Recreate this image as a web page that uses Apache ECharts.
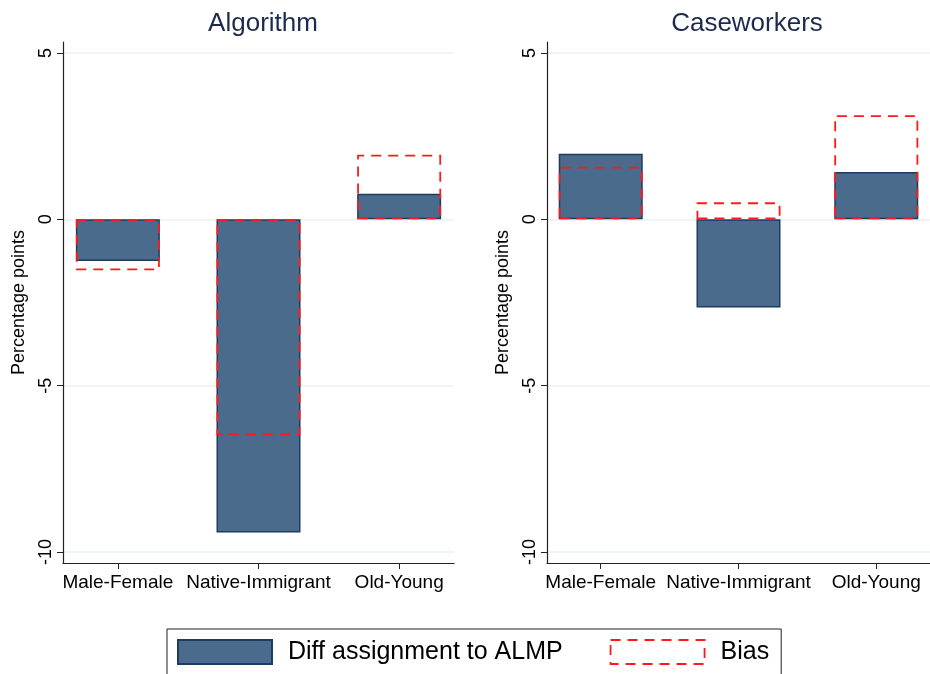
<!DOCTYPE html>
<html>
<head>
<meta charset="utf-8">
<script src="https://cdn.jsdelivr.net/npm/echarts@6/dist/echarts.min.js"></script>
<style>
  html, body { margin: 0; padding: 0; background: #fff; }
  #chart { width: 930px; height: 674px; }
</style>
</head>
<body>
<div id="chart"></div>
<script>
// categories and values
var categories = ['Male-Female', 'Native-Immigrant', 'Old-Young'];
var panels = ['Algorithm', 'Caseworkers'];
var algoDiff = [-1.25, -9.41, 0.77];
var algoBias = [-1.53, -6.49, 1.94];
var caseDiff = [1.97, -2.65, 1.42];
var caseBias = [1.58, 0.51, 3.13];
var yTicks = [-10, -5, 0, 5];
var xTicks = [0, 1, 2];

var font = '"Liberation Sans", Arial, sans-serif';
var blue = '#4a6b8b';
var navy = '#1a3d61';
var red = '#ff1a1a';
var dash = [10, 7];

function pts(vals) {
  return vals.map(function (v, i) { return [i, v]; });
}

function xAxisFor(idx) {
  return {
    type: 'value',
    gridIndex: idx,
    min: -0.39,
    max: 2.39,
    splitLine: { show: false },
    axisLine: { onZero: false, lineStyle: { color: '#222', width: 1.2 } },
    axisTick: { customValues: xTicks, length: 6, lineStyle: { color: '#222' } },
    axisLabel: {
      customValues: xTicks,
      margin: 10,
      color: '#000',
      fontFamily: font,
      fontSize: 19,
      formatter: function (v) { return categories[v]; }
    }
  };
}

function yAxisFor(idx) {
  return {
    type: 'value',
    gridIndex: idx,
    min: -10.33,
    max: 5.33,
    name: 'Percentage points',
    nameLocation: 'middle',
    nameRotate: 90,
    nameGap: 35,
    nameTextStyle: { color: '#000', fontFamily: font, fontSize: 18 },
    axisLine: { show: true, onZero: false, lineStyle: { color: '#222', width: 1.2 } },
    axisTick: { show: true, customValues: yTicks, length: 6, lineStyle: { color: '#222' } },
    axisLabel: {
      customValues: yTicks,
      rotate: 90,
      margin: 8,
      color: '#000',
      fontFamily: font,
      fontSize: 18
    },
    splitLine: { show: true, lineStyle: { color: '#eaf2f3', width: 1.5 } }
  };
}

function diffSeries(idx, vals) {
  return {
    name: 'Diff assignment to ALMP',
    type: 'bar',
    xAxisIndex: idx,
    yAxisIndex: idx,
    barWidth: 84,
    barGap: '-100%',
    itemStyle: { color: blue, borderColor: navy, borderWidth: 1.5 },
    data: pts(vals)
  };
}

function biasSeries(idx, vals) {
  return {
    name: 'Bias',
    type: 'bar',
    xAxisIndex: idx,
    yAxisIndex: idx,
    barWidth: 84,
    barGap: '-100%',
    itemStyle: {
      color: 'rgba(255,255,255,0)',
      borderColor: red,
      borderWidth: 1.8,
      borderType: dash
    },
    data: pts(vals)
  };
}

var chart = echarts.init(document.getElementById('chart'));
chart.setOption({
  animation: false,
  backgroundColor: '#fff',
  title: [
    { text: panels[0], left: 258, top: 6, textAlign: 'center',
      textStyle: { color: '#1c2b4d', fontFamily: font, fontSize: 26, fontWeight: 'normal' } },
    { text: panels[1], left: 742, top: 6, textAlign: 'center',
      textStyle: { color: '#1c2b4d', fontFamily: font, fontSize: 26, fontWeight: 'normal' } }
  ],
  grid: [
    { left: 63, top: 42, width: 391, height: 521 },
    { left: 547, top: 42, width: 392, height: 521 }
  ],
  xAxis: [xAxisFor(0), xAxisFor(1)],
  yAxis: [yAxisFor(0), yAxisFor(1)],
  legend: {
    left: 167,
    top: 629,
    padding: [10, 12, 12, 10],
    itemWidth: 94,
    itemHeight: 24,
    itemGap: 47,
    icon: 'rect',
    borderColor: '#222',
    borderWidth: 1,
    textStyle: { color: '#000', fontFamily: font, fontSize: 25, padding: [0, 0, 0, 11] },
    data: [
      'Diff assignment to ALMP',
      { name: 'Bias', itemStyle: { color: '#fff', borderColor: red, borderWidth: 1.8, borderType: dash } }
    ]
  },
  series: [
    diffSeries(0, algoDiff),
    biasSeries(0, algoBias),
    diffSeries(1, caseDiff),
    biasSeries(1, caseBias)
  ]
});
</script>
</body>
</html>
